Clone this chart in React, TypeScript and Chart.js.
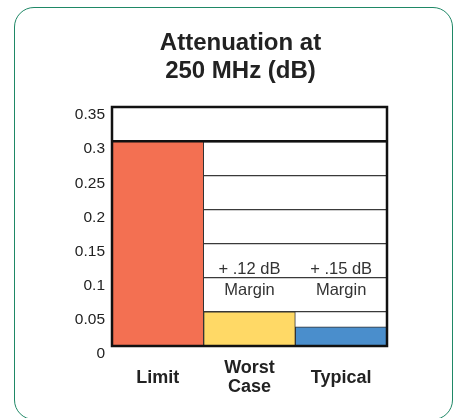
import React, { useEffect, useRef } from "react";
import { Chart, registerables } from "chart.js";

Chart.register(...registerables);

const categories: (string | string[])[] = ["Limit", ["Worst", "Case"], "Typical"];
const attenuation = [0.3, 0.05, 0.028];
const barColors = ["#F37052", "#FFD966", "#4A8ECC"];
const yTicks = [0, 0.05, 0.1, 0.15, 0.2, 0.25, 0.3, 0.35];
const yTickLabels = ["0", "0.05", "0.1", "0.15", "0.2", "0.25", "0.3", "0.35"];
const titleLines = ["Attenuation at", "250 MHz (dB)"];
const marginCategoryIndex = [1, 2];
const marginValues = ["+ .12 dB", "+ .15 dB"];
const marginWord = "Margin";
const marginAnchor = 0.1;
const limitLine = 0.3;

const framePlugin = {
  id: "frame",
  afterDatasetsDraw(chart: any) {
    const { ctx, chartArea: a, scales } = chart;
    const y = scales.y;
    const x = scales.x;
    ctx.save();
    // margin annotations
    ctx.fillStyle = "#333";
    ctx.font = "16.5px 'Liberation Sans', Arial, sans-serif";
    ctx.textAlign = "center";
    ctx.textBaseline = "alphabetic";
    const ly = y.getPixelForValue(marginAnchor);
    marginCategoryIndex.forEach((ci, i) => {
      const cx = x.getPixelForValue(ci);
      ctx.fillText(marginValues[i], cx, ly - 4);
      ctx.fillText(marginWord, cx, ly + 17);
    });
    // limit line and frame
    const yl = y.getPixelForValue(limitLine);
    ctx.strokeStyle = "#111";
    ctx.lineWidth = 2.5;
    ctx.beginPath();
    ctx.moveTo(a.left, yl);
    ctx.lineTo(a.right, yl);
    ctx.stroke();
    ctx.strokeRect(a.left, a.top, a.right - a.left, a.bottom - a.top);
    ctx.restore();
  },
  afterDraw(chart: any) {
    const { ctx } = chart;
    ctx.save();
    ctx.fillStyle = "#222";
    ctx.font = "bold 24px 'Liberation Sans', Arial, sans-serif";
    ctx.textAlign = "center";
    ctx.textBaseline = "alphabetic";
    titleLines.forEach((line, i) => {
      ctx.fillText(line, 240.5, 50 + i * 28);
    });
    ctx.restore();
  },
};

export default function App() {
  const ref = useRef<HTMLCanvasElement | null>(null);

  useEffect(() => {
    if (!ref.current) return;
    const chart = new Chart(ref.current, {
      type: "bar",
      data: {
        labels: categories as any,
        datasets: [
          {
            data: attenuation,
            backgroundColor: barColors,
            borderColor: "#333",
            borderWidth: 1,
            categoryPercentage: 1,
            barPercentage: 1,
          },
        ],
      },
      options: {
        animation: false,
        responsive: false,
        devicePixelRatio: 1,
        layout: { padding: { top: 107, left: 40, right: 72, bottom: 12 } },
        plugins: {
          legend: { display: false },
          tooltip: { enabled: false },
          title: { display: false },
        },
        scales: {
          x: {
            grid: { display: false },
            border: { display: false },
            ticks: {
              color: "#222",
              padding: 14,
              crossAlign: "center",
              maxRotation: 0,
              autoSkip: false,
              font: { family: "'Liberation Sans', Arial, sans-serif", size: 18, weight: "bold", lineHeight: 1.06 },
            },
            afterFit(scale: any) {
              scale.height = 60;
            },
          },
          y: {
            min: 0,
            max: 0.35,
            border: { display: false },
            grid: { color: "#3a3a3a", lineWidth: 1.2, drawTicks: false },
            afterBuildTicks(scale: any) {
              scale.ticks = yTicks.map((v) => ({ value: v }));
            },
            ticks: {
              color: "#222",
              padding: 7,
              labelOffset: 8,
              font: { family: "'Liberation Sans', Arial, sans-serif", size: 15.5 },
              callback: (_v: any, i: number) => yTickLabels[i],
            },
            afterFit(scale: any) {
              scale.width = 72;
            },
          },
        },
      },
      plugins: [framePlugin],
    });
    return () => chart.destroy();
  }, []);

  return (
    <div style={{ position: "fixed", left: 0, top: 0, width: 459, height: 418, overflow: "hidden", background: "#fff" }}>
      <div
        style={{
          position: "absolute",
          left: 14,
          top: 7,
          width: 439,
          height: 413,
          boxSizing: "border-box",
          border: "1.5px solid #1f8866",
          borderRadius: 20,
          background: "#fff",
        }}
      />
      <canvas ref={ref} width={459} height={418} style={{ position: "absolute", left: 0, top: 0 }} />
    </div>
  );
}
